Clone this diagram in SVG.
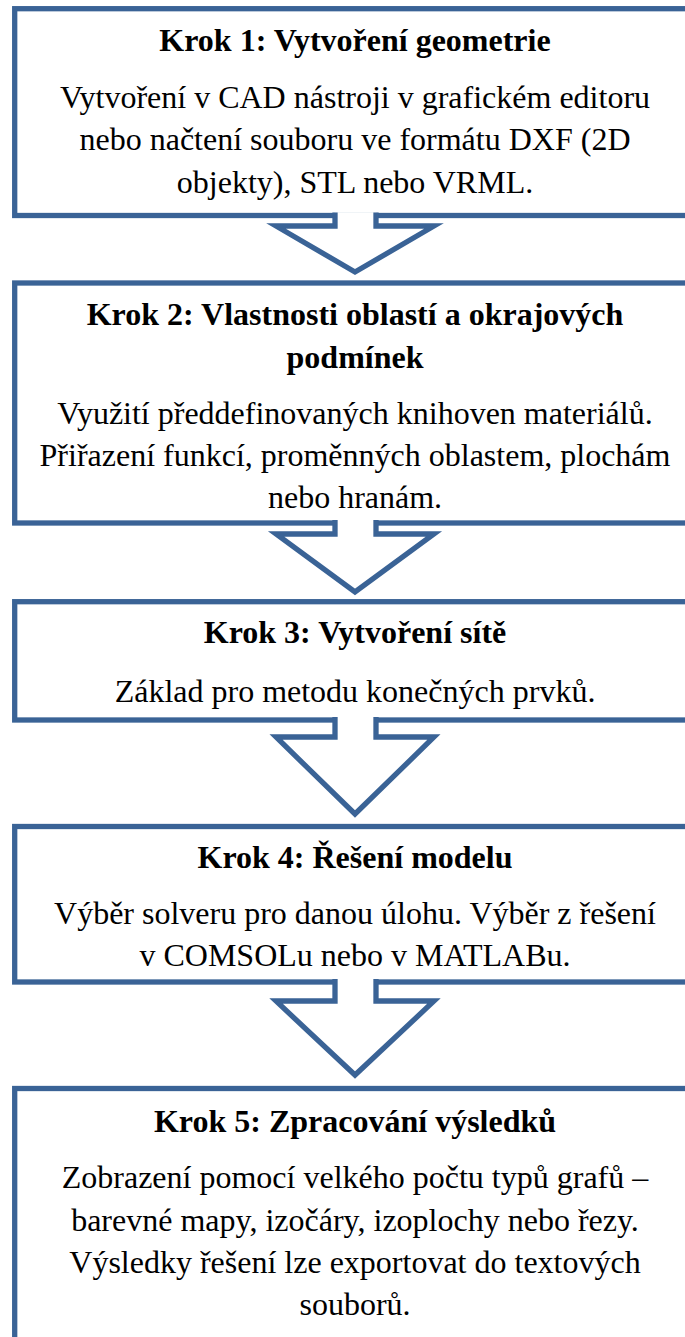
<svg xmlns="http://www.w3.org/2000/svg" width="685" height="1337" viewBox="0 0 685 1337">
<style>
.box{fill:#fff;stroke:#3A6396;stroke-width:5.3}
.arr{fill:#fff;stroke:#3A6396;stroke-width:5.3;stroke-linejoin:miter}
.t{font-family:"Liberation Serif","Times New Roman",serif;font-size:32px;font-weight:bold;text-anchor:middle;fill:#000}
.b{font-family:"Liberation Serif","Times New Roman",serif;font-size:32px;text-anchor:middle;fill:#000}
</style>
<rect width="685" height="1337" fill="#fff"/>
<g id="node1">
<rect class="box" x="14.7" y="8.7" width="700" height="206.8"/>
<text class="t" x="355" y="51">Krok 1: Vytvoření geometrie</text>
<text class="b" x="355" y="108">Vytvoření v CAD nástroji v grafickém editoru</text>
<text class="b" x="355" y="150">nebo načtení souboru ve formátu DXF (2D</text>
<text class="b" x="355" y="193">objekty), STL nebo VRML.</text>
</g>
<g id="node2">
<rect class="box" x="14.7" y="283" width="700" height="240"/>
<text class="t" x="355" y="325">Krok 2: Vlastnosti oblastí a okrajových</text>
<text class="t" x="355" y="368">podmínek</text>
<text class="b" x="355" y="424">Využití předdefinovaných knihoven materiálů.</text>
<text class="b" x="355" y="466">Přiřazení funkcí, proměnných oblastem, plochám</text>
<text class="b" x="355" y="508">nebo hranám.</text>
</g>
<g id="node3">
<rect class="box" x="14.7" y="601.7" width="700" height="118.3"/>
<text class="t" x="355" y="643">Krok 3: Vytvoření sítě</text>
<text class="b" x="355" y="702">Základ pro metodu konečných prvků.</text>
</g>
<g id="node4">
<rect class="box" x="14.7" y="826.5" width="700" height="155.5"/>
<text class="t" x="355" y="868">Krok 4: Řešení modelu</text>
<text class="b" x="355" y="924">Výběr solveru pro danou úlohu. Výběr z řešení</text>
<text class="b" x="355" y="966">v COMSOLu nebo v MATLABu.</text>
</g>
<g id="node5">
<rect class="box" x="14.7" y="1088.5" width="700" height="300"/>
<text class="t" x="355" y="1132">Krok 5: Zpracování výsledků</text>
<text class="b" x="355" y="1188">Zobrazení pomocí velkého počtu typů grafů –</text>
<text class="b" x="355" y="1231">barevné mapy, izočáry, izoplochy nebo řezy.</text>
<text class="b" x="355" y="1273">Výsledky řešení lze exportovat do textových</text>
<text class="b" x="355" y="1315">souborů.</text>
</g>
<g id="connectors">
<path class="arr" d="M335,212.5 V226 H276 L355,272 L434,226 H376 V212.5"/>
<path class="arr" d="M335,520 V534 H276 L355,592 L434,534 H376 V520"/>
<path class="arr" d="M335,717 V737 H276 L355,814 L434,737 H376 V717"/>
<path class="arr" d="M335,979 V1001 H276 L355,1075 L434,1001 H376 V979"/>
</g>
</svg>
